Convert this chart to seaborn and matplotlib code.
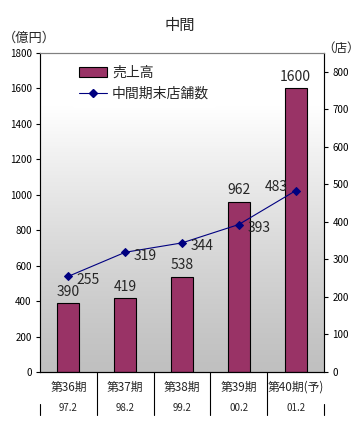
import numpy as np
import pandas as pd
import matplotlib
matplotlib.use("Agg")
import matplotlib.pyplot as plt
import matplotlib.transforms as mtransforms
from matplotlib.patches import Patch
from matplotlib.lines import Line2D
import seaborn as sns

# data
periods = ["第36期", "第37期", "第38期", "第39期", "第40期(予)"]
dates = ["97.2", "98.2", "99.2", "00.2", "01.2"]
sales = [390, 419, 538, 962, 1600]          # 売上高 (億円)
stores = [255, 319, 344, 393, 483]          # 中間期末店舗数 (店)

sns.set_theme(style="white")
plt.rcParams['font.family'] = ['Noto Sans CJK JP', 'DejaVu Sans']

df = pd.DataFrame({"period": periods, "sales": sales, "stores": stores})

fig = plt.figure(figsize=(3.63, 4.44), dpi=100)
ax = fig.add_axes([40/363, 1-372/444, 284/363, 319/444])

# gradient background (white at top to grey at bottom)
grad = np.linspace(0, 1, 256).reshape(-1, 1)
grad = np.clip(grad * 1.2, 0, 1) ** 1.2
cmap = matplotlib.colors.LinearSegmentedColormap.from_list("bg", ["#c0c0c0", "#ffffff"])
ax.imshow(grad, aspect="auto", cmap=cmap, extent=[0, 1, 0, 1], origin="lower",
          transform=ax.transAxes, zorder=0)

sns.barplot(data=df, x="period", y="sales", color="#993366", width=0.39,
            edgecolor="black", linewidth=0.8, saturation=1, ax=ax, zorder=2)
ax.set_ylim(0, 1800)
ax.set_xlim(-0.5, 4.5)
ax.set_yticks(range(0, 1801, 200))
ax.set_xlabel("")
ax.set_ylabel("")
ax.set_xticks([])
for i, v in enumerate(sales):
    ax.annotate(str(v), (i, v), xytext=(0, 3), textcoords="offset points",
                ha="center", va="bottom", fontsize=10, zorder=5)

ax2 = ax.twinx()
sns.lineplot(x=np.arange(len(stores)), y=stores, color="#000080", marker="D",
             markersize=4, linewidth=0.8, markeredgecolor="#000080", ax=ax2, zorder=4)
ax2.set_ylim(0, 850)
ax2.set_yticks(range(0, 801, 100))
for i, v in enumerate(stores):
    if i == len(stores) - 1:
        ax2.annotate(str(v), (i, v), xytext=(-6, 3), textcoords="offset points",
                     ha="right", va="center", fontsize=10, zorder=5)
    else:
        ax2.annotate(str(v), (i, v), xytext=(6, -2.5), textcoords="offset points",
                     ha="left", va="center", fontsize=10, zorder=5)

for a in (ax, ax2):
    a.tick_params(axis="y", direction="out", length=3, width=0.8, labelsize=7,
                  colors="black", pad=3)
    for s in a.spines.values():
        s.set_color("#808080")
        s.set_linewidth(0.8)
    a.spines["bottom"].set_color("black")
ax.tick_params(axis="y", left=True, right=False)
ax2.tick_params(axis="y", right=True, left=False)
ax2.spines["left"].set_color("black")
ax2.spines["right"].set_color("black")

# category table below the axis
trans = mtransforms.blended_transform_factory(ax.transData, fig.transFigure)
for i, (p, d) in enumerate(zip(periods, dates)):
    ax.text(i, 1-387/444, p, transform=trans, ha="center", va="center", fontsize=8.5)
    ax.text(i, 1-408/444, d, transform=trans, ha="center", va="center", fontsize=7)
for k in range(6):
    top = 1-372/444 if 0 < k < 5 else 1-404/444
    ax.plot([k - 0.5, k - 0.5], [top, 1-415/444], transform=trans, color="black",
            linewidth=0.8, clip_on=False)

# legend
handles = [Patch(facecolor="#993366", edgecolor="black", linewidth=0.8),
           Line2D([0], [0], color="#000080", marker="D", markersize=4, linewidth=0.8)]
leg = ax2.legend(handles, ["売上高", "中間期末店舗数"], loc="upper left",
                 bbox_to_anchor=(0.09, 1.0), frameon=True, fontsize=10,
                 handlelength=2.0, handletextpad=0.4, labelspacing=0.45,
                 borderpad=0.45, fancybox=False)
leg.get_frame().set_edgecolor("white")
leg.get_frame().set_facecolor("white")
leg.get_frame().set_alpha(1)
leg.set_zorder(6)

fig.text(180/363, 1-25/444, "中間", ha="center", va="center", fontsize=11)
fig.text(3/363, 1-38/444, "（億円）", ha="left", va="center", fontsize=9.5)
fig.text(341/363, 1-48/444, "（店）", ha="center", va="center", fontsize=9)

fig.savefig("out.png", dpi=100, facecolor="white")
